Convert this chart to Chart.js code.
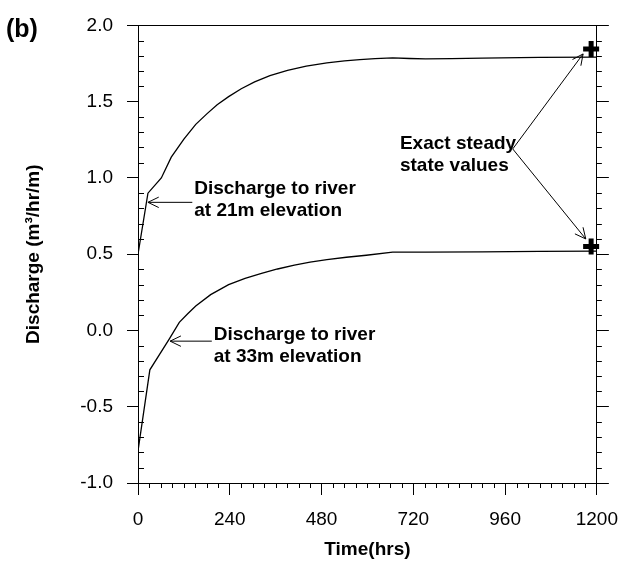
<!DOCTYPE html>
<html lang="en">
  <head>
    <meta charset="UTF-8" />
    <title>Discharge to river</title>
    <script src="https://cdn.jsdelivr.net/npm/chart.js"></script>
    <style>
      body {
        margin: 0;
        background: #fff;
      }
      .wrap {
        width: 631px;
        height: 561px;
      }
    </style>
  </head>
  <body>
    <div class="wrap">
      <canvas id="dischargeChart" width="631" height="561"></canvas>
    </div>

    <script>
      // Discharge to river at 21m elevation
      const timeUpper = [0, 26, 61, 87, 120, 151, 180, 207, 237, 270, 305, 345, 391, 440, 494, 540, 580, 620, 666, 710, 752, 820, 900, 1050, 1200];
      const dischargeUpper = [0.5, 0.9, 1.0, 1.136, 1.255, 1.351, 1.42, 1.48, 1.533, 1.585, 1.63, 1.67, 1.705, 1.733, 1.754, 1.767, 1.776, 1.782, 1.787, 1.783, 1.78, 1.782, 1.785, 1.79, 1.792];

      // Discharge to river at 33m elevation
      const timeLower = [0, 31, 82, 108, 130, 151, 190, 237, 280, 323, 365, 409, 450, 494, 545, 597, 666, 752, 900, 1050, 1200];
      const dischargeLower = [-0.79, -0.258, -0.055, 0.053, 0.11, 0.16, 0.235, 0.3, 0.342, 0.375, 0.403, 0.428, 0.448, 0.465, 0.48, 0.493, 0.514, 0.514, 0.515, 0.518, 0.52];

      // Exact steady state values
      const steadyTime = [1185, 1185];
      const steadyValues = [1.845, 0.55];

      // Axis ticks
      const xTicks = [0, 240, 480, 720, 960, 1200];
      const yTicks = [-1.0, -0.5, 0.0, 0.5, 1.0, 1.5, 2.0];

      const FONT = "Arial, 'Liberation Sans', sans-serif";
      Chart.defaults.color = "#000";
      Chart.defaults.font.family = FONT;

      // text notes and arrows, anchored in data units
      const notes = [
        { lines: ["Discharge to river", "at 21m elevation"], t: 147, v: 0.93 },
        { lines: ["Discharge to river", "at 33m elevation"], t: 198, v: -0.025 },
        { lines: ["Exact steady", "state values"], t: 685, v: 1.225 },
      ];
      const arrows = [
        { from: [142, 0.84], to: [26, 0.84] },
        { from: [193, -0.07], to: [84, -0.07] },
        { from: [980, 1.19], to: [1164, 1.813] },
        { from: [980, 1.19], to: [1171, 0.6] },
      ];

      const px = (v) => Math.round(v) + 0.5;

      const extras = {
        id: "extras",
        afterDraw(chart) {
          const ctx = chart.ctx;
          const { left, right, top, bottom } = chart.chartArea;
          const xs = chart.scales.x;
          const ys = chart.scales.y;
          ctx.save();
          ctx.strokeStyle = "#000";
          ctx.lineWidth = 1;

          // top frame
          ctx.beginPath();
          ctx.moveTo(left, px(top));
          ctx.lineTo(right, px(top));
          ctx.stroke();

          // minor ticks
          ctx.beginPath();
          for (let t = 30; t < 1200; t += 30) {
            if (t % 240 === 0) continue;
            const x = px(xs.getPixelForValue(t));
            ctx.moveTo(x, bottom);
            ctx.lineTo(x, bottom + 5);
          }
          for (let i = -9; i < 20; i++) {
            if (i % 5 === 0) continue;
            const y = px(ys.getPixelForValue(i / 10));
            ctx.moveTo(left, y);
            ctx.lineTo(left + 6, y);
            ctx.moveTo(right, y);
            ctx.lineTo(right + 5, y);
          }
          ctx.stroke();

          // arrows
          arrows.forEach((a) => {
            const x1 = xs.getPixelForValue(a.from[0]);
            const y1 = ys.getPixelForValue(a.from[1]);
            const x2 = xs.getPixelForValue(a.to[0]);
            const y2 = ys.getPixelForValue(a.to[1]);
            const ang = Math.atan2(y2 - y1, x2 - x1);
            const hl = 12;
            ctx.beginPath();
            ctx.moveTo(x1, y1);
            ctx.lineTo(x2, y2);
            ctx.moveTo(x2 - hl * Math.cos(ang - 0.45), y2 - hl * Math.sin(ang - 0.45));
            ctx.lineTo(x2, y2);
            ctx.lineTo(x2 - hl * Math.cos(ang + 0.45), y2 - hl * Math.sin(ang + 0.45));
            ctx.stroke();
          });

          // notes
          ctx.fillStyle = "#000";
          ctx.font = "bold 19px " + FONT;
          ctx.textAlign = "left";
          ctx.textBaseline = "middle";
          notes.forEach((n) => {
            const x = xs.getPixelForValue(n.t);
            const y = ys.getPixelForValue(n.v);
            n.lines.forEach((line, i) => ctx.fillText(line, x, y + i * 22));
          });

          // panel label
          ctx.font = "bold 25px " + FONT;
          ctx.fillText("(b)", 6, 30);
          ctx.restore();
        },
      };

      new Chart(document.getElementById("dischargeChart"), {
        type: "line",
        data: {
          datasets: [
            {
              label: "21m elevation",
              data: timeUpper.map((t, i) => ({ x: t, y: dischargeUpper[i] })),
              borderColor: "#000",
              borderWidth: 1.3,
              pointRadius: 0,
              tension: 0,
              fill: false,
            },
            {
              label: "33m elevation",
              data: timeLower.map((t, i) => ({ x: t, y: dischargeLower[i] })),
              borderColor: "#000",
              borderWidth: 1.3,
              pointRadius: 0,
              tension: 0,
              fill: false,
            },
            {
              type: "scatter",
              label: "Exact steady state",
              data: steadyTime.map((t, i) => ({ x: t, y: steadyValues[i] })),
              showLine: false,
              pointStyle: "cross",
              pointRadius: 8,
              pointBorderWidth: 5,
              borderColor: "#000",
              backgroundColor: "#000",
              clip: false,
            },
          ],
        },
        options: {
          responsive: false,
          animation: false,
          layout: { padding: { top: 17, left: 0, right: 0, bottom: 0 } },
          plugins: {
            legend: { display: false },
            tooltip: { enabled: false },
          },
          scales: {
            x: {
              type: "linear",
              position: "bottom",
              min: 0,
              max: 1200,
              afterBuildTicks: (s) => {
                s.ticks = xTicks.map((v) => ({ value: v }));
              },
              afterFit: (s) => {
                s.height = 78;
              },
              ticks: {
                font: { size: 19 },
                padding: 13,
                maxRotation: 0,
                callback: (v) => String(v),
              },
              grid: { drawOnChartArea: false, tickLength: 12, color: "#000" },
              border: { color: "#000", width: 1 },
              title: {
                display: true,
                text: "Time(hrs)",
                font: { size: 19, weight: "bold" },
                padding: { top: 0, bottom: 0 },
              },
            },
            y: {
              position: "left",
              min: -1,
              max: 2,
              afterBuildTicks: (s) => {
                s.ticks = yTicks.map((v) => ({ value: v }));
              },
              afterFit: (s) => {
                s.width = 138;
              },
              ticks: {
                font: { size: 19 },
                padding: 14,
                callback: (v) => Number(v).toFixed(1),
              },
              grid: { drawOnChartArea: false, tickLength: 11, color: "#000" },
              border: { color: "#000", width: 1 },
              title: {
                display: true,
                text: "Discharge (m³/hr/m)",
                font: { size: 19, weight: "bold" },
                padding: { top: 22, bottom: 0 },
              },
            },
            y2: {
              position: "right",
              min: -1,
              max: 2,
              afterBuildTicks: (s) => {
                s.ticks = yTicks.map((v) => ({ value: v }));
              },
              afterFit: (s) => {
                s.width = 27;
              },
              ticks: { display: false },
              grid: { drawOnChartArea: false, tickLength: 12, color: "#000" },
              border: { color: "#000", width: 1 },
            },
          },
        },
        plugins: [extras],
      });
    </script>
  </body>
</html>
